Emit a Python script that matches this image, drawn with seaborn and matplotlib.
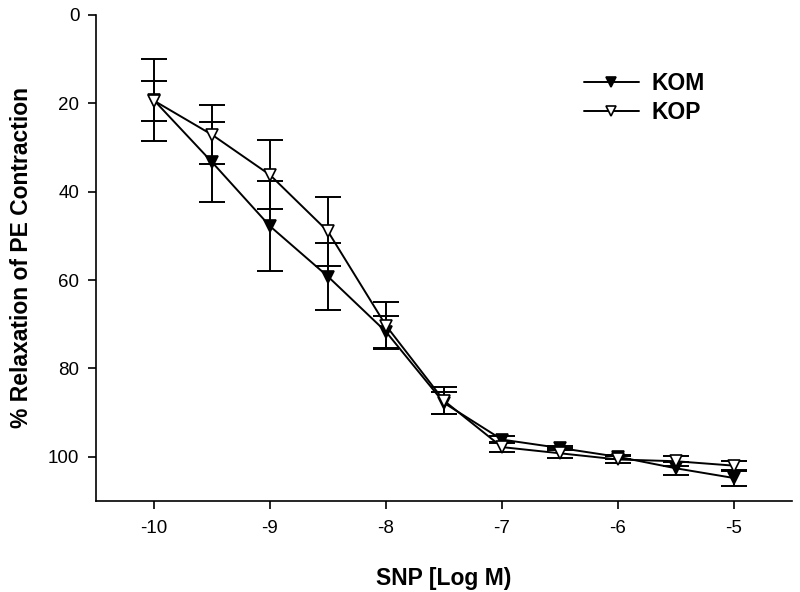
import numpy as np
import pandas as pd
import seaborn as sns
import matplotlib
matplotlib.use("Agg")
import matplotlib.pyplot as plt

# log concentration of SNP
snp = [-10, -9.5, -9, -8.5, -8, -7.5, -7, -6.5, -6, -5.5, -5]

kom = [19.3, 33.3, 47.8, 59.2, 71.7, 87.8, 96.1, 98.0, 100.0, 102.6, 104.8]
kom_se = [9.3, 9.0, 10.2, 7.5, 3.6, 2.4, 0.8, 0.5, 0.5, 1.5, 1.7]

kop = [19.4, 27.1, 36.2, 49.0, 70.3, 87.3, 97.8, 99.2, 100.6, 101.0, 102.0]
kop_se = [4.5, 6.7, 7.8, 7.7, 5.3, 3.1, 1.2, 1.1, 0.8, 1.1, 1.0]

sns.set_style("ticks")
plt.rcParams['font.family'] = ['Liberation Sans', 'DejaVu Sans']
plt.rcParams['axes.unicode_minus'] = False
plt.rcParams['text.color'] = 'black'
plt.rcParams['axes.labelcolor'] = 'black'

fig = plt.figure(figsize=(8, 5.92), dpi=100)
ax = fig.add_axes([0.12, 0.1537, 0.87, 0.8210])

groups = [("KOM", kom, kom_se, "black"), ("KOP", kop, kop_se, "white")]
for name, y, se, face in groups:
    ax.errorbar(snp, y, yerr=se, fmt="none", ecolor="black",
                elinewidth=1.4, capsize=9.5, capthick=1.4, zorder=2)
    sns.lineplot(x=snp, y=y, ax=ax, color="black", linewidth=1.4,
                 marker="v", markersize=9, markerfacecolor=face,
                 markeredgecolor="black", markeredgewidth=1.2,
                 label=name, zorder=3)

ax.set_xlim(-10.5, -4.5)
ax.set_ylim(110, 0)
ax.set_xticks([-10, -9, -8, -7, -6, -5])
ax.set_yticks([0, 20, 40, 60, 80, 100])
ax.tick_params(direction="out", length=6, width=1.2, labelsize=13.5,
               colors="black")
ax.tick_params(axis="x", pad=7.5)
ax.tick_params(axis="y", pad=6)
for s in ["left", "bottom"]:
    ax.spines[s].set_linewidth(1.2)
    ax.spines[s].set_color("black")
sns.despine(ax=ax)

ax.set_xlabel("SNP [Log M)", fontsize=16.5, fontweight="bold", labelpad=21.5)
ax.set_ylabel("% Relaxation of PE Contraction", fontsize=16.5,
              fontweight="bold", labelpad=11)

leg = ax.legend(loc="upper left", bbox_to_anchor=(0.671, 0.926),
                frameon=False, handlelength=2.4, handletextpad=0.55,
                markerscale=0.8, labelspacing=0.3,
                prop={"weight": "bold", "size": 16.5})

fig.savefig("out.png", dpi=100)
